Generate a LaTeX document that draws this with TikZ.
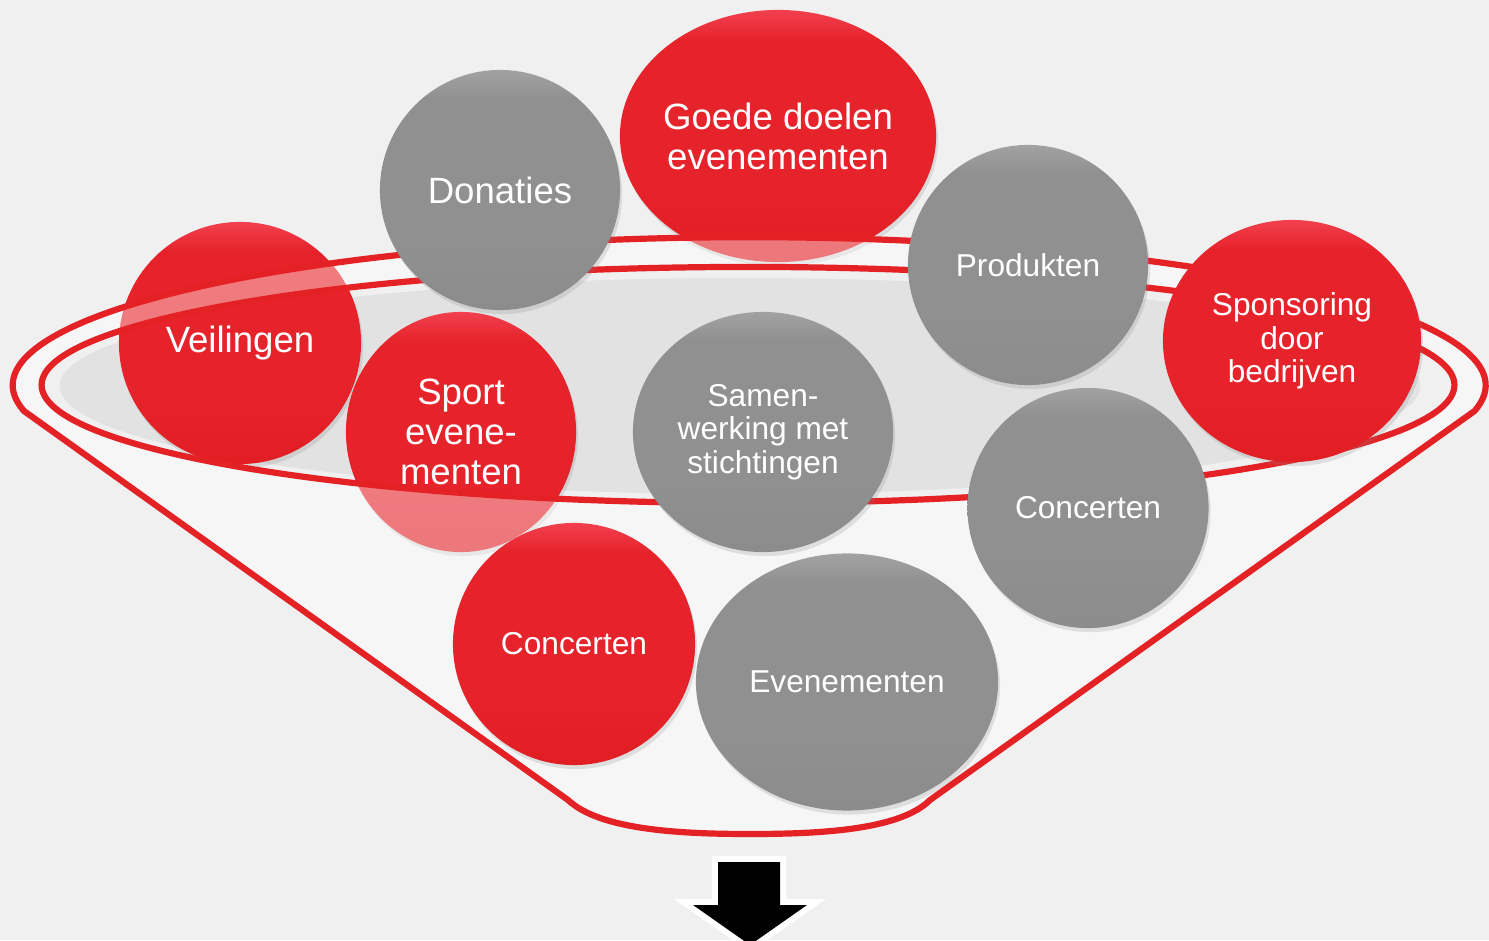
\documentclass[tikz,border=0pt]{standalone}
\usepackage{fontspec}
\setmainfont{Liberation Sans}
\usetikzlibrary{shapes.geometric,shadows}

\definecolor{achtergrond}{HTML}{F0F0F0}
\definecolor{gatgrijs}{HTML}{E2E2E2}
\definecolor{trechterrood}{HTML}{E42226}
\definecolor{roodboven}{HTML}{F2404F}
\definecolor{roodmidden}{HTML}{E6232B}
\definecolor{roodonder}{HTML}{E11E23}
\definecolor{grijsboven}{HTML}{A2A2A2}
\definecolor{grijsmidden}{HTML}{909090}
\definecolor{grijsonder}{HTML}{8C8C8C}

\pgfdeclareverticalshading{roodbol}{100bp}{color(0bp)=(roodonder); color(25bp)=(roodonder);
  color(40bp)=(roodmidden); color(69bp)=(roodmidden); color(75bp)=(roodboven); color(100bp)=(roodboven)}
\pgfdeclareverticalshading{grijsbol}{100bp}{color(0bp)=(grijsonder); color(25bp)=(grijsonder);
  color(40bp)=(grijsmidden); color(69bp)=(grijsmidden); color(75bp)=(grijsboven); color(100bp)=(grijsboven)}

\tikzset{
  bol/.style={ellipse, inner sep=0pt,
    drop shadow={shadow xshift=0.02cm, shadow yshift=-0.04cm, opacity=0.2}},
  rodebol/.style={bol, shading=roodbol},
  grijzebol/.style={bol, shading=grijsbol},
  groot/.style={text=white, align=center, font=\fontsize{10.4}{11.4}\selectfont},
  klein/.style={text=white, align=center, font=\fontsize{9}{9.5}\selectfont},
  rand/.style={draw=trechterrood, line width=0.062cm, line join=round}
}

\begin{document}
\begin{tikzpicture}[x=0.01cm, y=-0.01cm]
\useasboundingbox (0,0) rectangle (1489,940);
\fill[achtergrond] (0,0) rectangle (1489,940);

% binnenkant van de trechter
\fill[gatgrijs] (740,386) ellipse [x radius=6.8cm, y radius=1.08cm];

% bollen achter de rand
\node[rodebol, minimum width=2.42cm, minimum height=2.42cm,
      label={[groot]center:Veilingen}] (veilingen) at (240,343) {};
\node[rodebol, minimum width=2.30cm, minimum height=2.40cm,
      label={[groot]center:Sport\\evene-\\menten}] (sport) at (461,432) {};
\node[rodebol, minimum width=3.16cm, minimum height=2.52cm,
      label={[groot]center:Goede doelen\\evenementen}] (goededoelen) at (778,136) {};

% trechter
\path[fill=white, fill opacity=0.4, even odd rule]
  (568,800) -- (24,411) arc [start angle=190, end angle=-10, x radius=7.36cm, y radius=1.48cm]
  -- (930,800) .. controls (900,830) and (820,834) .. (750,834)
  .. controls (680,834) and (600,830) .. (568,800) -- cycle
  (748,385) ellipse [x radius=7.06cm, y radius=1.18cm];
\draw[rand]
  (568,800) -- (24,411) arc [start angle=190, end angle=-10, x radius=7.36cm, y radius=1.48cm]
  -- (930,800) .. controls (900,830) and (820,834) .. (750,834)
  .. controls (680,834) and (600,830) .. (568,800) -- cycle;
\draw[rand] (748,385) ellipse [x radius=7.06cm, y radius=1.18cm];

% bollen voor de rand
\node[grijzebol, minimum width=2.40cm, minimum height=2.40cm,
      label={[groot]center:Donaties}] (donaties) at (500,190) {};
\node[grijzebol, minimum width=2.40cm, minimum height=2.40cm,
      label={[klein]center:Produkten}] (produkten) at (1028,265) {};
\node[rodebol, minimum width=2.58cm, minimum height=2.42cm,
      label={[klein]center:Sponsoring\\door\\bedrijven}] (sponsoring) at (1292,341) {};
\node[grijzebol, minimum width=2.60cm, minimum height=2.40cm,
      label={[klein]center:Samen-\\werking met\\stichtingen}] (samenwerking) at (763,432) {};
\node[grijzebol, minimum width=2.41cm, minimum height=2.40cm,
      label={[klein]center:Concerten}] (concertengrijs) at (1088,508) {};
\node[rodebol, minimum width=2.42cm, minimum height=2.42cm,
      label={[klein]center:Concerten}] (concertenrood) at (574,644) {};
\node[grijzebol, minimum width=3.02cm, minimum height=2.57cm,
      label={[klein]center:Evenementen}] (evenementen) at (847,682) {};

% pijl naar beneden
\path[preaction={draw=white, line width=0.12cm, line join=miter}, fill=black]
  (718,862) -- (780,862) -- (780,905) -- (807,905) -- (750,945)
  -- (693,905) -- (718,905) -- cycle;

\end{tikzpicture}
\end{document}
